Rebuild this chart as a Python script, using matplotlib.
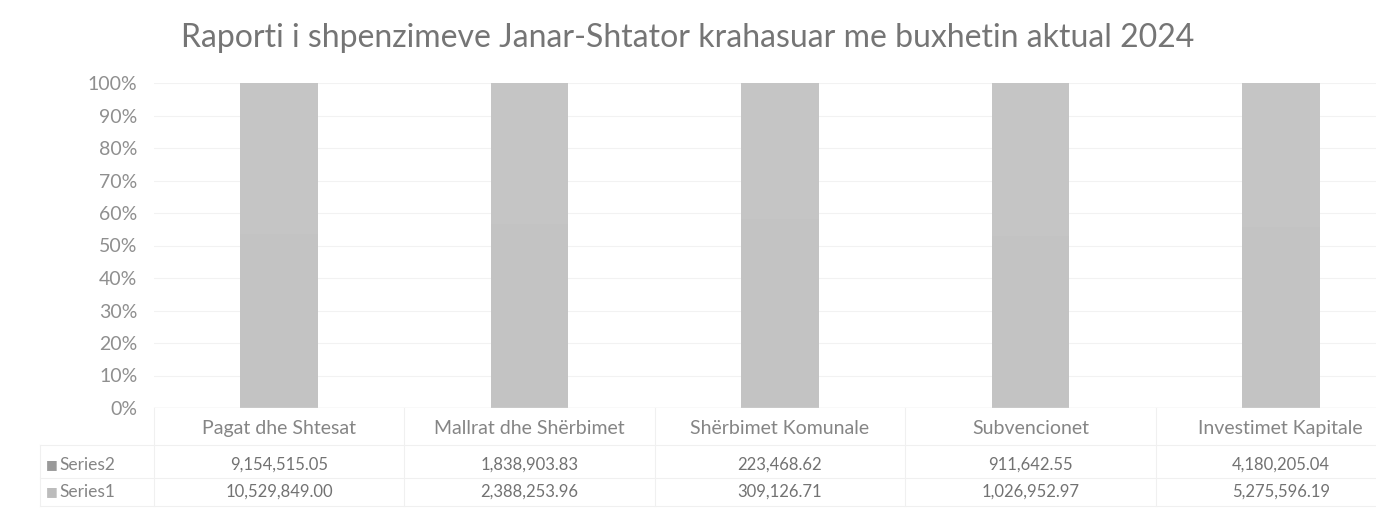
import numpy as np
import matplotlib.pyplot as plt

plt.rcParams['font.family'] = ['Lato', 'DejaVu Sans']

categories = ["Pagat dhe Shtesat", "Mallrat dhe Shërbimet", "Shërbimet Komunale",
              "Subvencionet", "Investimet Kapitale"]
series1 = [10529849.00, 2388253.96, 309126.71, 1026952.97, 5275596.19]
series2 = [9154515.05, 1838903.83, 223468.62, 911642.55, 4180205.04]
yticks = [0, 10, 20, 30, 40, 50, 60, 70, 80, 90, 100]

s1 = np.array(series1)
s2 = np.array(series2)
tot = s1 + s2
p1 = s1 / tot * 100
p2 = s2 / tot * 100

W, H = 1376, 529
fig = plt.figure(figsize=(W / 100, H / 100), dpi=100)
# plot area in pixels: x 154..1406 (runs past the right edge like the scan), y 83..408
ax = fig.add_axes([154 / W, (H - 408) / H, 1252 / W, 325 / H])

x = np.arange(len(categories))
ax.bar(x, p1, width=0.31, color='#c3c3c3', zorder=2)
ax.bar(x, p2, bottom=p1, width=0.31, color='#c5c5c5', zorder=2)

ax.set_xlim(-0.5, len(categories) - 0.5)
ax.set_ylim(0, 100)
ax.set_yticks(yticks)
ax.set_yticklabels([f"{t}%" for t in yticks])
ax.tick_params(axis='y', length=0, labelsize=14, labelcolor='#8f8f8f', pad=12)
ax.set_xticks([])
ax.grid(axis='y', color='#f2f2f2', linewidth=0.8, zorder=0)
for s in ax.spines.values():
    s.set_visible(False)
ax.axhline(0, color='#e6e6e6', linewidth=1, zorder=3)

fig.text(0.5, 1 - 38 / H, "Raporti i shpenzimeve Janar-Shtator krahasuar me buxhetin aktual 2024",
         ha='center', va='center', fontsize=23, color='#757575')

# data table under the plot
tr = ax.get_xaxis_transform()
row_y = {"head": -0.062, "Series2": -0.175, "Series1": -0.258}
for i, c in enumerate(categories):
    ax.text(i, row_y["head"], c, transform=tr, ha='center', va='center',
            fontsize=14, color='#858585', clip_on=False)
    ax.text(i, row_y["Series2"], f"{series2[i]:,.2f}", transform=tr, ha='center',
            va='center', fontsize=12, color='#727272', clip_on=False)
    ax.text(i, row_y["Series1"], f"{series1[i]:,.2f}", transform=tr, ha='center',
            va='center', fontsize=12, color='#727272', clip_on=False)

marker_col = {"Series2": '#9a9a9a', "Series1": '#bcbcbc'}
for name in ["Series2", "Series1"]:
    yf = 1 - (408 - row_y[name] * 325) / H
    fig.text(46 / W, yf, "■", color=marker_col[name],
             fontsize=9, ha='left', va='center', family='DejaVu Sans')
    fig.text(59 / W, yf, name, color='#858585',
             fontsize=12.5, ha='left', va='center')

# faint table lines
grid_c = '#f0f0f0'
for yy in [-0.115, -0.215, -0.3]:
    ax.plot([-0.5 - 114 / 250.4, 4.5], [yy, yy], transform=tr, color=grid_c,
            linewidth=0.8, clip_on=False)
for xx in np.arange(-0.5, 5.0, 1.0):
    ax.plot([xx, xx], [0, -0.3], transform=tr, color=grid_c, linewidth=0.8, clip_on=False)
ax.plot([-0.5 - 114 / 250.4] * 2, [-0.115, -0.3], transform=tr, color=grid_c,
        linewidth=0.8, clip_on=False)

fig.savefig("out.png", dpi=100, facecolor='white')
